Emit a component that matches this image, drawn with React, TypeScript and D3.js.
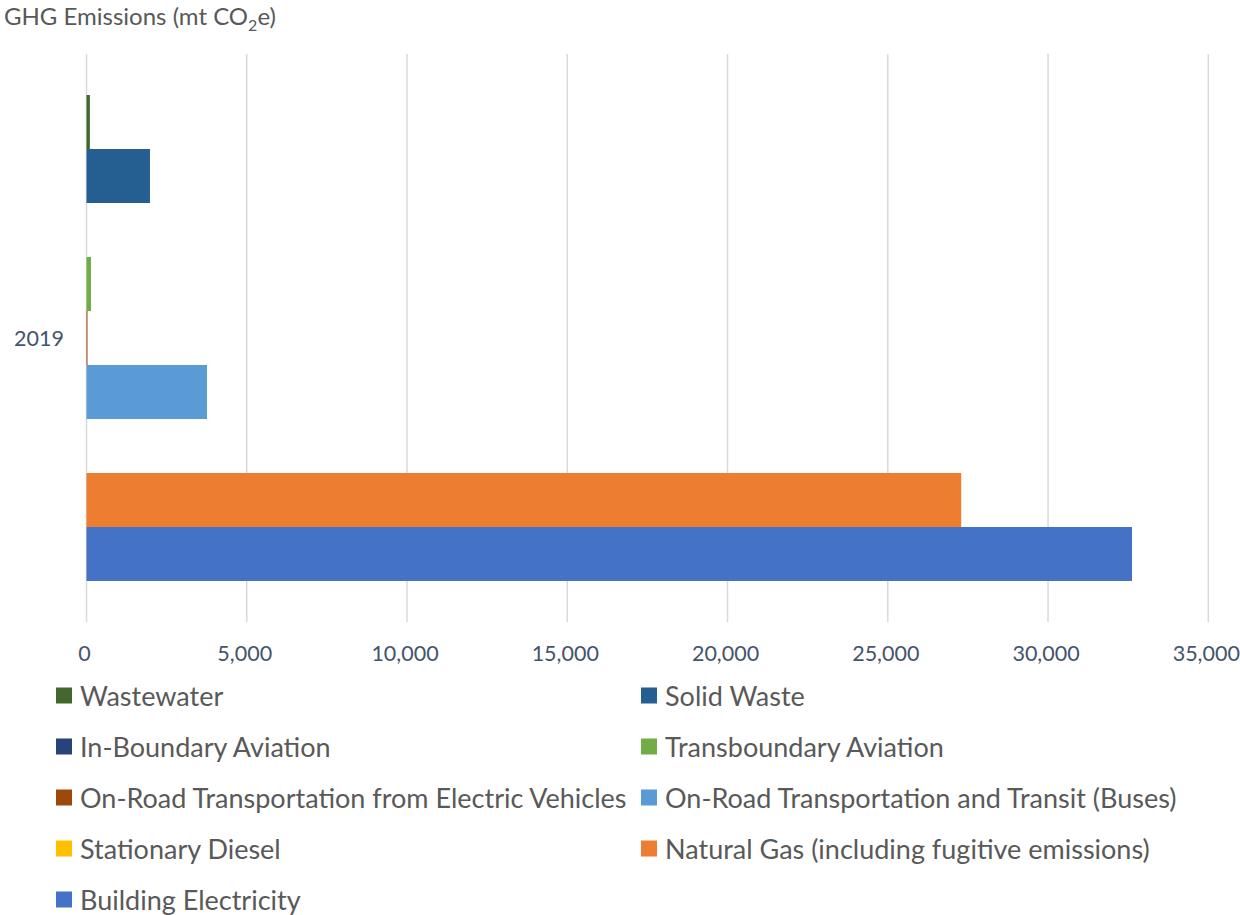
import React from "react";
import * as d3 from "d3";

const categories = ["2019"];
const seriesNames = [
  "Wastewater",
  "Solid Waste",
  "In-Boundary Aviation",
  "Transboundary Aviation",
  "On-Road Transportation from Electric Vehicles",
  "On-Road Transportation and Transit (Buses)",
  "Stationary Diesel",
  "Natural Gas (including fugitive emissions)",
  "Building Electricity",
];
const seriesValues = [105, 1980, 0, 140, 12, 3760, 0, 27290, 32620];
const seriesColors = [
  "#43682B",
  "#255E91",
  "#264478",
  "#70AD47",
  "#9E480E",
  "#5B9BD5",
  "#FFC000",
  "#ED7D31",
  "#4472C4",
];
const xTicks = [0, 5000, 10000, 15000, 20000, 25000, 30000, 35000];

const FONT = "Lato, 'Open Sans', sans-serif";

export default function App() {
  const width = 1240;
  const height = 915;
  const x = d3.scaleLinear().domain([0, 35000]).range([86.5, 1208.3]);
  const yCat = d3
    .scaleBand<string>()
    .domain(categories)
    .range([54, 622])
    .paddingInner(0)
    .paddingOuter(0.0844);
  const fmt = d3.format(",");

  const legendRowY = (i: number) => 695.5 + Math.floor(i / 2) * 51;
  const legendColX = (i: number) => (i % 2 === 0 ? 56 : 641);

  return (
    <svg
      width={width}
      height={height}
      style={{ position: "absolute", left: 0, top: 0, background: "#fff" }}
      fontFamily={FONT}
    >
      <text x={4} y={25} fontSize={24} fill="#595959">
        GHG Emissions (mt CO
        <tspan fontSize={16} dy={6}>2</tspan>
        <tspan dy={-6}>e)</tspan>
      </text>

      {xTicks.map((t) => (
        <line
          key={"g" + t}
          x1={x(t)}
          x2={x(t)}
          y1={54}
          y2={622}
          stroke="#D9D9D9"
          strokeWidth={1.5}
        />
      ))}

      {categories.map((c) => {
        const inner = d3
          .scaleBand<string>()
          .domain(seriesNames)
          .range([yCat(c)!, yCat(c)! + yCat.bandwidth()]);
        return (
          <g key={c}>
            {seriesNames.map((s, i) => {
              const v = seriesValues[i];
              const w = x(v) - x(0);
              if (w <= 0) return null;
              return (
                <rect
                  key={s}
                  x={x(0)}
                  y={inner(s)!}
                  width={Math.max(w, 1)}
                  height={inner.bandwidth()}
                  fill={seriesColors[i]}
                />
              );
            })}
            <text
              x={64}
              y={yCat(c)! + yCat.bandwidth() / 2}
              textAnchor="end"
              dominantBaseline="central"
              fontSize={21.5}
              fill="#44546A"
            >
              {c}
            </text>
          </g>
        );
      })}

      {xTicks.map((t) => (
        <text
          key={"t" + t}
          x={x(t) - 2}
          y={653}
          textAnchor="middle"
          dominantBaseline="central"
          fontSize={21.5}
          fill="#44546A"
        >
          {fmt(t)}
        </text>
      ))}

      {seriesNames.map((s, i) => (
        <g key={"l" + s}>
          <rect
            x={legendColX(i)}
            y={legendRowY(i) - 8}
            width={16}
            height={16}
            fill={seriesColors[i]}
          />
          <text
            x={legendColX(i) + 24}
            y={legendRowY(i)}
            dominantBaseline="central"
            fontSize={27}
            fill="#595959"
          >
            {s}
          </text>
        </g>
      ))}
    </svg>
  );
}
